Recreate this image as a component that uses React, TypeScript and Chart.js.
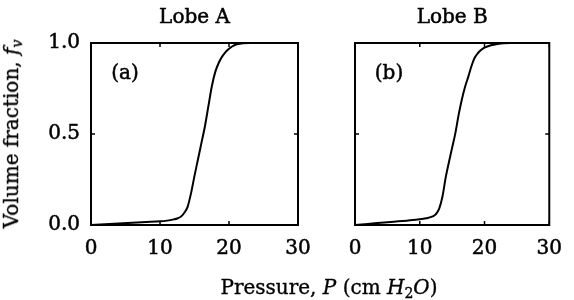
import { useEffect, useRef } from "react";
import { Chart, registerables } from "chart.js";

Chart.register(...registerables);

// Lobe A: pressure (cm H2O) vs volume fraction
const pressureA = [0, 2, 4, 6, 8, 10, 11, 12, 12.5, 13, 13.5, 14, 14.5, 15, 15.5, 16, 16.5, 17, 17.5, 18, 18.5, 19, 19.5, 20, 20.5, 21, 22, 23, 30];
const volumeA = [0, 0.004, 0.008, 0.012, 0.016, 0.02, 0.024, 0.031, 0.036, 0.045, 0.066, 0.1, 0.175, 0.27, 0.36, 0.45, 0.54, 0.65, 0.76, 0.84, 0.89, 0.925, 0.95, 0.968, 0.982, 0.992, 0.998, 1, 1];

// Lobe B
const pressureB = [0, 2, 4, 6, 8, 10, 11, 12, 12.5, 13, 13.5, 14, 14.5, 15, 15.5, 16, 16.5, 17, 17.5, 18, 18.5, 19, 19.5, 20, 21, 22, 23, 24, 30];
const volumeB = [0, 0.006, 0.012, 0.018, 0.024, 0.031, 0.037, 0.047, 0.06, 0.09, 0.155, 0.26, 0.345, 0.425, 0.505, 0.605, 0.69, 0.76, 0.815, 0.875, 0.92, 0.945, 0.963, 0.975, 0.988, 0.995, 0.999, 1, 1];

const xTicks = [0, 10, 20, 30];
const yTicks = [0, 0.5, 1];
const panelTitles = ["Lobe A", "Lobe B"];
const panelTags = ["(a)", "(b)"];

const FONT = "'DejaVu Serif', serif";
const SIZE = 20;
const STROKE = 0.5;

const framePlugin = {
  id: "frame",
  afterDraw(chart: any) {
    const { ctx, chartArea: a, scales } = chart;
    const xs = scales.x;
    const ys = scales.y;
    ctx.save();
    ctx.strokeStyle = "#000";
    ctx.lineWidth = 2;
    ctx.strokeRect(a.left, a.top, a.right - a.left, a.bottom - a.top);
    const tl = 4;
    ctx.lineWidth = 1.5;
    ctx.beginPath();
    for (const v of xTicks) {
      const px = xs.getPixelForValue(v);
      ctx.moveTo(px, a.bottom);
      ctx.lineTo(px, a.bottom - tl);
      ctx.moveTo(px, a.top);
      ctx.lineTo(px, a.top + tl);
    }
    for (const v of yTicks) {
      const py = ys.getPixelForValue(v);
      ctx.moveTo(a.left, py);
      ctx.lineTo(a.left + tl, py);
      ctx.moveTo(a.right, py);
      ctx.lineTo(a.right - tl, py);
    }
    ctx.stroke();
    ctx.fillStyle = "#000";
    ctx.font = SIZE + "px " + FONT;
    ctx.textAlign = "center";
    ctx.textBaseline = "middle";
    ctx.lineWidth = STROKE;
    const tag = chart.options.plugins.frame?.tag;
    if (tag) {
      ctx.fillText(tag, a.left + 34, a.top + 31);
      ctx.strokeText(tag, a.left + 34, a.top + 31);
    }
    // thicken the Chart.js title glyphs slightly
    const tb = chart.titleBlock;
    if (tb && tb.options.display) {
      const lh = tb.options.font.size * 1.2;
      const ty = tb.top + tb.options.padding.top + lh / 2;
      ctx.strokeText(tb.options.text, (tb.left + tb.right) / 2, ty);
    }
    ctx.restore();
  },
};

function makeConfig(px: number[], vy: number[], title: string, tag: string, showY: boolean, padL: number, padR: number): any {
  return {
    type: "line",
    data: {
      datasets: [
        {
          data: px.map((p, i) => ({ x: p, y: vy[i] })),
          borderColor: "#000",
          borderWidth: 2,
          pointRadius: 0,
          fill: false,
          cubicInterpolationMode: "monotone",
        },
      ],
    },
    options: {
      animation: false,
      responsive: false,
      layout: { padding: { left: padL, right: padR, top: 0, bottom: 0 } },
      plugins: {
        legend: { display: false },
        tooltip: { enabled: false },
        title: {
          display: true,
          text: title,
          fullSize: false,
          color: "#000",
          font: { family: FONT, size: SIZE, weight: "normal", lineHeight: 1.2 },
          padding: { top: 6, bottom: 13 },
        },
        frame: { tag },
      },
      scales: {
        x: {
          type: "linear",
          min: 0,
          max: 30,
          afterFit: (s: any) => {
            s.height = 75;
          },
          afterBuildTicks: (s: any) => {
            s.ticks = xTicks.map((v) => ({ value: v }));
          },
          ticks: {
            padding: 12,
            color: "#000",
            textStrokeColor: "#000",
            textStrokeWidth: STROKE,
            font: { family: FONT, size: SIZE },
            callback: (v: number) => String(v),
          },
          grid: { display: false, drawTicks: false },
          border: { display: false },
        },
        y: {
          type: "linear",
          min: 0,
          max: 1,
          afterFit: (s: any) => {
            s.width = showY ? 91 : 0;
          },
          afterBuildTicks: (s: any) => {
            s.ticks = yTicks.map((v) => ({ value: v }));
          },
          ticks: {
            display: showY,
            padding: 11,
            color: "#000",
            textStrokeColor: "#000",
            textStrokeWidth: STROKE,
            font: { family: FONT, size: SIZE },
            callback: (v: number) => Number(v).toFixed(1),
          },
          grid: { display: false, drawTicks: false },
          border: { display: false },
        },
      },
    },
    plugins: [framePlugin],
  };
}

export default function App() {
  const refA = useRef<HTMLCanvasElement>(null);
  const refB = useRef<HTMLCanvasElement>(null);

  useEffect(() => {
    const cA = new Chart(refA.current!, makeConfig(pressureA, volumeA, panelTitles[0], panelTags[0], true, 0, 276));
    const cB = new Chart(refB.current!, makeConfig(pressureB, volumeB, panelTitles[1], panelTags[1], false, 355, 11));
    return () => {
      cA.destroy();
      cB.destroy();
    };
  }, []);

  const canvasStyle: any = { position: "absolute", left: 0, top: 0, width: 574, height: 300 };
  const textStyle: any = {
    position: "absolute",
    fontFamily: FONT,
    fontSize: 20,
    lineHeight: "20px",
    whiteSpace: "nowrap",
    color: "#000",
    WebkitTextStroke: "0.35px #000",
  };
  const subStyle: any = { fontSize: "0.7em", verticalAlign: "-0.25em", lineHeight: 0 };

  return (
    <div style={{ position: "absolute", left: 0, top: 0, width: 574, height: 300, background: "#fff", overflow: "hidden" }}>
      <canvas ref={refA} width={574} height={300} style={canvasStyle} />
      <canvas ref={refB} width={574} height={300} style={canvasStyle} />
      <div style={{ ...textStyle, left: 329, top: 277, transform: "translateX(-50%)" }}>
        Pressure, <i>P</i> (cm <i>H</i>
        <span style={subStyle}>2</span>
        <i>O</i>)
      </div>
      <div style={{ ...textStyle, left: 10.5, top: 134, transform: "translate(-50%, -50%) rotate(-90deg)" }}>
        Volume fraction, <i>f</i>
        <i style={subStyle}>v</i>
      </div>
    </div>
  );
}
